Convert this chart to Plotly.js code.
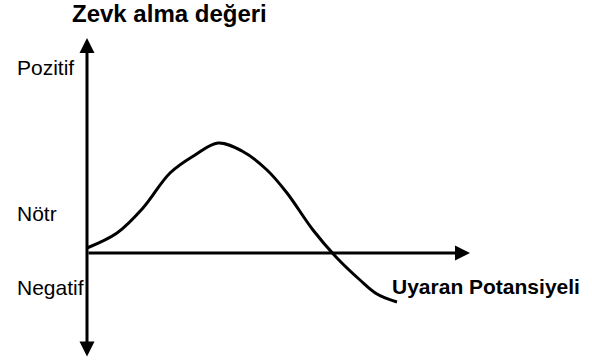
<!DOCTYPE html>
<html>
<head>
<meta charset="utf-8">
<script src="https://cdn.plot.ly/plotly-3.0.1.min.js"></script>
<style>
  html, body { margin: 0; padding: 0; background: #fff; }
  #chart { width: 592px; height: 363px; }
</style>
</head>
<body>
<div id="chart"></div>
<script>
// Uyaran potansiyeli (x) ve zevk alma değeri (y), eksen kesişimi = 0
var stimulus = [0, 30, 56, 83, 108, 131, 155, 180, 200, 226, 250, 273, 290, 310];
var hedonic  = [5, 20, 45, 80, 98, 110, 102, 83, 60, 23, -5, -27, -41, -49];

var yAxisTop = 215, yAxisBottom = -105, xAxisEnd = 383;

var yLabels = ['Pozitif', 'Nötr', 'Negatif'];
var yLabelPos = [186, 40, -34];

var FONT = 'Liberation Sans, Arial, sans-serif';

var data = [{
  x: stimulus,
  y: hedonic,
  type: 'scatter',
  mode: 'lines',
  line: {color: '#000', width: 3, shape: 'spline', smoothing: 1},
  hoverinfo: 'skip'
}];

var annotations = [
  // dikey eksen (iki yönlü ok)
  {x: 0, y: yAxisTop, ax: 0, ay: yAxisBottom, xref: 'x', yref: 'y', axref: 'x', ayref: 'y',
   showarrow: true, arrowhead: 2, startarrowhead: 2, arrowside: 'end+start',
   arrowsize: 1, startarrowsize: 1, arrowwidth: 3, arrowcolor: '#000', text: ''},
  // yatay eksen
  {x: xAxisEnd, y: 0, ax: 0, ay: 0, xref: 'x', yref: 'y', axref: 'x', ayref: 'y',
   showarrow: true, arrowhead: 2, arrowsize: 1, arrowwidth: 3, arrowcolor: '#000', text: ''},
  {x: -17, y: 240, xref: 'x', yref: 'y', text: 'Zevk alma değeri', showarrow: false,
   xanchor: 'left', yanchor: 'middle', font: {family: FONT, size: 24, weight: 'bold', color: '#000'}},
  {x: 303, y: -33, xref: 'x', yref: 'y', text: 'Uyaran Potansiyeli', showarrow: false,
   xanchor: 'left', yanchor: 'middle', font: {family: FONT, size: 21, weight: 'bold', color: '#000'}}
];

for (var i = 0; i < yLabels.length; i++) {
  annotations.push({x: -72, y: yLabelPos[i], xref: 'x', yref: 'y', text: yLabels[i],
    showarrow: false, xanchor: 'left', yanchor: 'middle',
    font: {family: FONT, size: 21, color: '#000'}});
}

var layout = {
  width: 592,
  height: 363,
  margin: {l: 0, r: 0, t: 0, b: 0},
  paper_bgcolor: '#fff',
  plot_bgcolor: '#fff',
  showlegend: false,
  xaxis: {range: [-87, 505], visible: false, fixedrange: true},
  yaxis: {range: [-110, 253], visible: false, fixedrange: true},
  annotations: annotations
};

Plotly.newPlot('chart', data, layout, {staticPlot: true});
</script>
</body>
</html>
